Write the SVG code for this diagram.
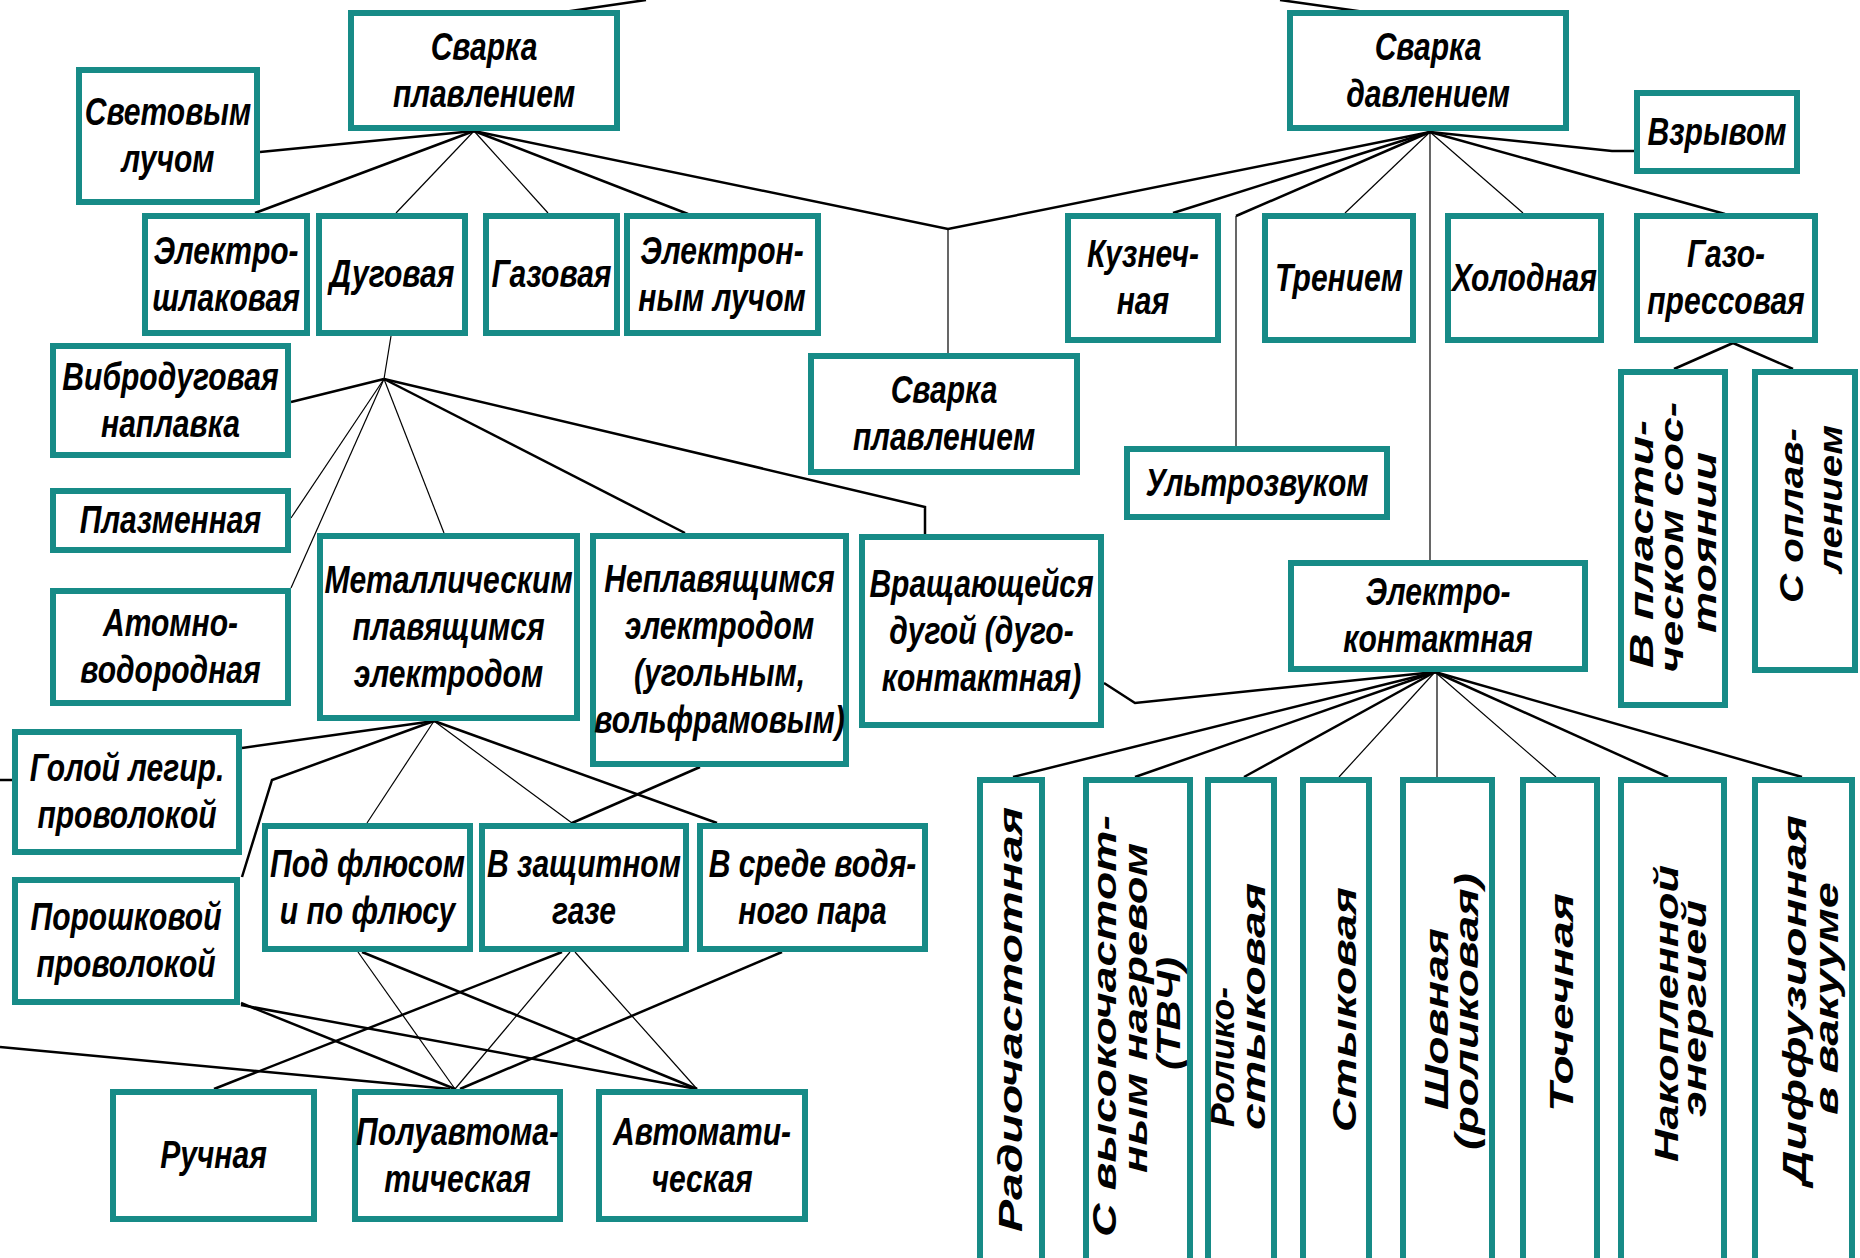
<svg xmlns="http://www.w3.org/2000/svg" width="1860" height="1258" viewBox="0 0 1860 1258">
<style>
.box{fill:#fff;stroke:#178b87;stroke-width:6}
.t{font-family:"Liberation Sans",Arial,sans-serif;font-weight:bold;font-style:italic;font-size:39px;fill:#000;text-anchor:middle}
.v{font-family:"Liberation Sans",Arial,sans-serif;font-weight:bold;font-style:italic;font-size:33px;fill:#000}
.k{stroke:#000;stroke-width:2.5;fill:none}
.n{stroke:#000;stroke-width:1.2;fill:none}
</style>
<rect width="1860" height="1258" fill="#fff"/>
<g id="connectors">
<line class="k" x1="646" y1="0" x2="557" y2="13"/>
<line class="k" x1="1280" y1="0" x2="1372" y2="13"/>
<line class="k" x1="474" y1="131" x2="260" y2="152"/>
<line class="k" x1="474" y1="131" x2="255" y2="213"/>
<line class="n" x1="474" y1="131" x2="396" y2="213"/>
<line class="n" x1="474" y1="131" x2="548" y2="213"/>
<line class="k" x1="474" y1="131" x2="688" y2="214"/>
<polyline class="k" points="474,131 948,229 1430,132"/>
<line class="n" x1="948" y1="229" x2="948" y2="353"/>
<line class="k" x1="1430" y1="132" x2="1173" y2="213"/>
<polyline class="k" points="1430,132 1236,216"/>
<line class="n" x1="1236" y1="216" x2="1236" y2="446"/>
<line class="n" x1="1430" y1="132" x2="1345" y2="213"/>
<line class="n" x1="1430" y1="132" x2="1430" y2="560"/>
<line class="n" x1="1430" y1="132" x2="1523" y2="213"/>
<line class="k" x1="1430" y1="132" x2="1725" y2="214"/>
<polyline class="k" points="1430,132 1612,151 1634,151"/>
<line class="k" x1="1733" y1="343" x2="1674" y2="369"/>
<line class="k" x1="1733" y1="343" x2="1793" y2="369"/>
<line class="n" x1="391" y1="336" x2="384" y2="379"/>
<line class="k" x1="384" y1="379" x2="291" y2="402"/>
<line class="n" x1="384" y1="379" x2="291" y2="518"/>
<line class="n" x1="384" y1="379" x2="291" y2="588"/>
<line class="n" x1="384" y1="379" x2="444" y2="533"/>
<line class="k" x1="384" y1="379" x2="685" y2="533"/>
<polyline class="k" points="384,379 925,507 925,534"/>
<line class="k" x1="434" y1="721" x2="242" y2="748"/>
<polyline class="k" points="434,721 272,780 242,877"/>
<line class="n" x1="434" y1="721" x2="367" y2="823"/>
<line class="n" x1="434" y1="721" x2="572" y2="823"/>
<line class="k" x1="434" y1="721" x2="717" y2="823"/>
<line class="k" x1="700" y1="767" x2="572" y2="823"/>
<line class="k" x1="0" y1="780" x2="12" y2="780"/>
<line class="n" x1="358" y1="952" x2="455" y2="1089"/>
<line class="k" x1="362" y1="952" x2="697" y2="1089"/>
<line class="k" x1="562" y1="952" x2="214" y2="1089"/>
<line class="n" x1="570" y1="952" x2="455" y2="1089"/>
<line class="n" x1="575" y1="952" x2="697" y2="1089"/>
<line class="k" x1="782" y1="952" x2="460" y2="1089"/>
<line class="k" x1="241" y1="1003" x2="455" y2="1089"/>
<line class="k" x1="241" y1="1005" x2="697" y2="1089"/>
<line class="k" x1="0" y1="1047" x2="450" y2="1089"/>
<polyline class="k" points="1435,672 1135,703 1104,683"/>
<line class="k" x1="1435" y1="672" x2="1013" y2="777"/>
<line class="k" x1="1435" y1="672" x2="1135" y2="777"/>
<line class="k" x1="1435" y1="672" x2="1244" y2="777"/>
<line class="n" x1="1435" y1="672" x2="1339" y2="777"/>
<line class="n" x1="1437" y1="672" x2="1437" y2="777"/>
<line class="n" x1="1435" y1="672" x2="1556" y2="777"/>
<line class="k" x1="1435" y1="672" x2="1668" y2="777"/>
<line class="k" x1="1435" y1="672" x2="1802" y2="777"/>
</g>
<g id="n1"><rect class="box" x="351" y="13" width="266" height="115"/><text class="t" transform="translate(484 0) scale(0.77 1)"><tspan x="0" y="60">Сварка</tspan><tspan x="0" y="107">плавлением</tspan></text></g>
<g id="n2"><rect class="box" x="1290" y="13" width="276" height="115"/><text class="t" transform="translate(1428 0) scale(0.77 1)"><tspan x="0" y="60">Сварка</tspan><tspan x="0" y="107">давлением</tspan></text></g>
<g id="n3"><rect class="box" x="79" y="70" width="178" height="132"/><text class="t" transform="translate(168 0) scale(0.77 1)"><tspan x="0" y="125.5">Световым</tspan><tspan x="0" y="172.5">лучом</tspan></text></g>
<g id="n4"><rect class="box" x="1637" y="93" width="160" height="78"/><text class="t" transform="translate(1717 0) scale(0.77 1)"><tspan x="0" y="145">Взрывом</tspan></text></g>
<g id="n5"><rect class="box" x="145" y="216" width="162" height="117"/><text class="t" transform="translate(226 0) scale(0.77 1)"><tspan x="0" y="264">Электро-</tspan><tspan x="0" y="311">шлаковая</tspan></text></g>
<g id="n6"><rect class="box" x="319" y="216" width="146" height="117"/><text class="t" transform="translate(392 0) scale(0.77 1)"><tspan x="0" y="287.5">Дуговая</tspan></text></g>
<g id="n7"><rect class="box" x="486" y="216" width="131" height="117"/><text class="t" transform="translate(551.5 0) scale(0.77 1)"><tspan x="0" y="287.5">Газовая</tspan></text></g>
<g id="n8"><rect class="box" x="627" y="216" width="191" height="117"/><text class="t" transform="translate(722 0) scale(0.77 1)"><tspan x="0" y="264">Электрон-</tspan><tspan x="0" y="311">ным лучом</tspan></text></g>
<g id="n9"><rect class="box" x="1068" y="216" width="150" height="124"/><text class="t" transform="translate(1143 0) scale(0.77 1)"><tspan x="0" y="267.5">Кузнеч-</tspan><tspan x="0" y="314.5">ная</tspan></text></g>
<g id="n10"><rect class="box" x="1265" y="216" width="148" height="124"/><text class="t" transform="translate(1339 0) scale(0.77 1)"><tspan x="0" y="291">Трением</tspan></text></g>
<g id="n11"><rect class="box" x="1448" y="216" width="153" height="124"/><text class="t" transform="translate(1524.5 0) scale(0.77 1)"><tspan x="0" y="291">Холодная</tspan></text></g>
<g id="n12"><rect class="box" x="1637" y="216" width="178" height="124"/><text class="t" transform="translate(1726 0) scale(0.77 1)"><tspan x="0" y="267.5">Газо-</tspan><tspan x="0" y="314.5">прессовая</tspan></text></g>
<g id="n13"><rect class="box" x="811" y="356" width="266" height="116"/><text class="t" transform="translate(944 0) scale(0.77 1)"><tspan x="0" y="403.5">Сварка</tspan><tspan x="0" y="450.5">плавлением</tspan></text></g>
<g id="n14"><rect class="box" x="53" y="346" width="235" height="109"/><text class="t" transform="translate(170.5 0) scale(0.77 1)"><tspan x="0" y="390">Вибродуговая</tspan><tspan x="0" y="437">наплавка</tspan></text></g>
<g id="n15"><rect class="box" x="53" y="491" width="235" height="59"/><text class="t" transform="translate(170.5 0) scale(0.77 1)"><tspan x="0" y="533.5">Плазменная</tspan></text></g>
<g id="n16"><rect class="box" x="1127" y="449" width="260" height="68"/><text class="t" transform="translate(1257 0) scale(0.77 1)"><tspan x="0" y="496">Ультрозвуком</tspan></text></g>
<g id="n17"><rect class="box" x="1621" y="372" width="104" height="333"/><text class="v" transform="translate(1653 668) rotate(-90)" textLength="248" lengthAdjust="spacingAndGlyphs">В пласти-</text><text class="v" transform="translate(1683 673) rotate(-90)" textLength="271" lengthAdjust="spacingAndGlyphs">ческом сос-</text><text class="v" transform="translate(1716 633) rotate(-90)" textLength="181" lengthAdjust="spacingAndGlyphs">тоянии</text></g>
<g id="n18"><rect class="box" x="1755" y="372" width="100" height="298"/><text class="v" transform="translate(1803 603) rotate(-90)" textLength="175" lengthAdjust="spacingAndGlyphs">С оплав-</text><text class="v" transform="translate(1842 573) rotate(-90)" textLength="148" lengthAdjust="spacingAndGlyphs">лением</text></g>
<g id="n19"><rect class="box" x="53" y="591" width="235" height="112"/><text class="t" transform="translate(170.5 0) scale(0.77 1)"><tspan x="0" y="636.5">Атомно-</tspan><tspan x="0" y="683.5">водородная</tspan></text></g>
<g id="n20"><rect class="box" x="320" y="536" width="257" height="182"/><text class="t" transform="translate(448.5 0) scale(0.77 1)"><tspan x="0" y="593">Металлическим</tspan><tspan x="0" y="640">плавящимся</tspan><tspan x="0" y="687">электродом</tspan></text></g>
<g id="n21"><rect class="box" x="593" y="536" width="253" height="228"/><text class="t" transform="translate(719.5 0) scale(0.77 1)"><tspan x="0" y="592.5">Неплавящимся</tspan><tspan x="0" y="639.5">электродом</tspan><tspan x="0" y="686.5">(угольным,</tspan><tspan x="0" y="733.5">вольфрамовым)</tspan></text></g>
<g id="n22"><rect class="box" x="862" y="537" width="239" height="188"/><text class="t" transform="translate(981.5 0) scale(0.77 1)"><tspan x="0" y="597">Вращающейся</tspan><tspan x="0" y="644">дугой (дуго-</tspan><tspan x="0" y="691">контактная)</tspan></text></g>
<g id="n23"><rect class="box" x="1291" y="563" width="294" height="106"/><text class="t" transform="translate(1438 0) scale(0.77 1)"><tspan x="0" y="605.5">Электро-</tspan><tspan x="0" y="652.5">контактная</tspan></text></g>
<g id="n24"><rect class="box" x="15" y="732" width="224" height="120"/><text class="t" transform="translate(127 0) scale(0.77 1)"><tspan x="0" y="781.5">Голой легир.</tspan><tspan x="0" y="828.5">проволокой</tspan></text></g>
<g id="n25"><rect class="box" x="15" y="880" width="222" height="122"/><text class="t" transform="translate(126 0) scale(0.77 1)"><tspan x="0" y="930.5">Порошковой</tspan><tspan x="0" y="977.5">проволокой</tspan></text></g>
<g id="n26"><rect class="box" x="265" y="826" width="205" height="123"/><text class="t" transform="translate(367.5 0) scale(0.77 1)"><tspan x="0" y="877">Под флюсом</tspan><tspan x="0" y="924">и по флюсу</tspan></text></g>
<g id="n27"><rect class="box" x="482" y="826" width="204" height="123"/><text class="t" transform="translate(584 0) scale(0.77 1)"><tspan x="0" y="877">В защитном</tspan><tspan x="0" y="924">газе</tspan></text></g>
<g id="n28"><rect class="box" x="700" y="826" width="225" height="123"/><text class="t" transform="translate(812.5 0) scale(0.77 1)"><tspan x="0" y="877">В среде водя-</tspan><tspan x="0" y="924">ного пара</tspan></text></g>
<g id="n29"><rect class="box" x="113" y="1092" width="201" height="127"/><text class="t" transform="translate(213.5 0) scale(0.77 1)"><tspan x="0" y="1168.5">Ручная</tspan></text></g>
<g id="n30"><rect class="box" x="355" y="1092" width="205" height="127"/><text class="t" transform="translate(457.5 0) scale(0.77 1)"><tspan x="0" y="1145">Полуавтома-</tspan><tspan x="0" y="1192">тическая</tspan></text></g>
<g id="n31"><rect class="box" x="599" y="1092" width="206" height="127"/><text class="t" transform="translate(702 0) scale(0.77 1)"><tspan x="0" y="1145">Автомати-</tspan><tspan x="0" y="1192">ческая</tspan></text></g>
<g id="n32"><rect class="box" x="980" y="780" width="62" height="490"/><text class="v" transform="translate(1022 1232) rotate(-90)" textLength="425" lengthAdjust="spacingAndGlyphs">Радиочастотная</text></g>
<g id="n33"><rect class="box" x="1086" y="780" width="104" height="490"/><text class="v" transform="translate(1116 1237) rotate(-90)" textLength="422" lengthAdjust="spacingAndGlyphs">С высокочастот-</text><text class="v" transform="translate(1147 1173) rotate(-90)" textLength="330" lengthAdjust="spacingAndGlyphs">ным нагревом</text><text class="v" transform="translate(1180 1070) rotate(-90)" textLength="113" lengthAdjust="spacingAndGlyphs">(ТВЧ)</text></g>
<g id="n34"><rect class="box" x="1208" y="780" width="66" height="490"/><text class="v" transform="translate(1234 1127) rotate(-90)" textLength="140" lengthAdjust="spacingAndGlyphs">Ролико-</text><text class="v" transform="translate(1265 1130) rotate(-90)" textLength="247" lengthAdjust="spacingAndGlyphs">стыковая</text></g>
<g id="n35"><rect class="box" x="1303" y="780" width="66" height="490"/><text class="v" transform="translate(1356 1132) rotate(-90)" textLength="245" lengthAdjust="spacingAndGlyphs">Стыковая</text></g>
<g id="n36"><rect class="box" x="1403" y="780" width="89" height="490"/><text class="v" transform="translate(1448 1110) rotate(-90)" textLength="182" lengthAdjust="spacingAndGlyphs">Шовная</text><text class="v" transform="translate(1478 1150) rotate(-90)" textLength="277" lengthAdjust="spacingAndGlyphs">(роликовая)</text></g>
<g id="n37"><rect class="box" x="1523" y="780" width="74" height="490"/><text class="v" transform="translate(1573 1112) rotate(-90)" textLength="219" lengthAdjust="spacingAndGlyphs">Точечная</text></g>
<g id="n38"><rect class="box" x="1621" y="780" width="103" height="490"/><text class="v" transform="translate(1678 1162) rotate(-90)" textLength="297" lengthAdjust="spacingAndGlyphs">Накопленной</text><text class="v" transform="translate(1706 1117) rotate(-90)" textLength="217" lengthAdjust="spacingAndGlyphs">энергией</text></g>
<g id="n39"><rect class="box" x="1755" y="780" width="97" height="490"/><text class="v" transform="translate(1806 1185) rotate(-90)" textLength="370" lengthAdjust="spacingAndGlyphs">Диффузионная</text><text class="v" transform="translate(1838 1115) rotate(-90)" textLength="233" lengthAdjust="spacingAndGlyphs">в вакууме</text></g>
</svg>
